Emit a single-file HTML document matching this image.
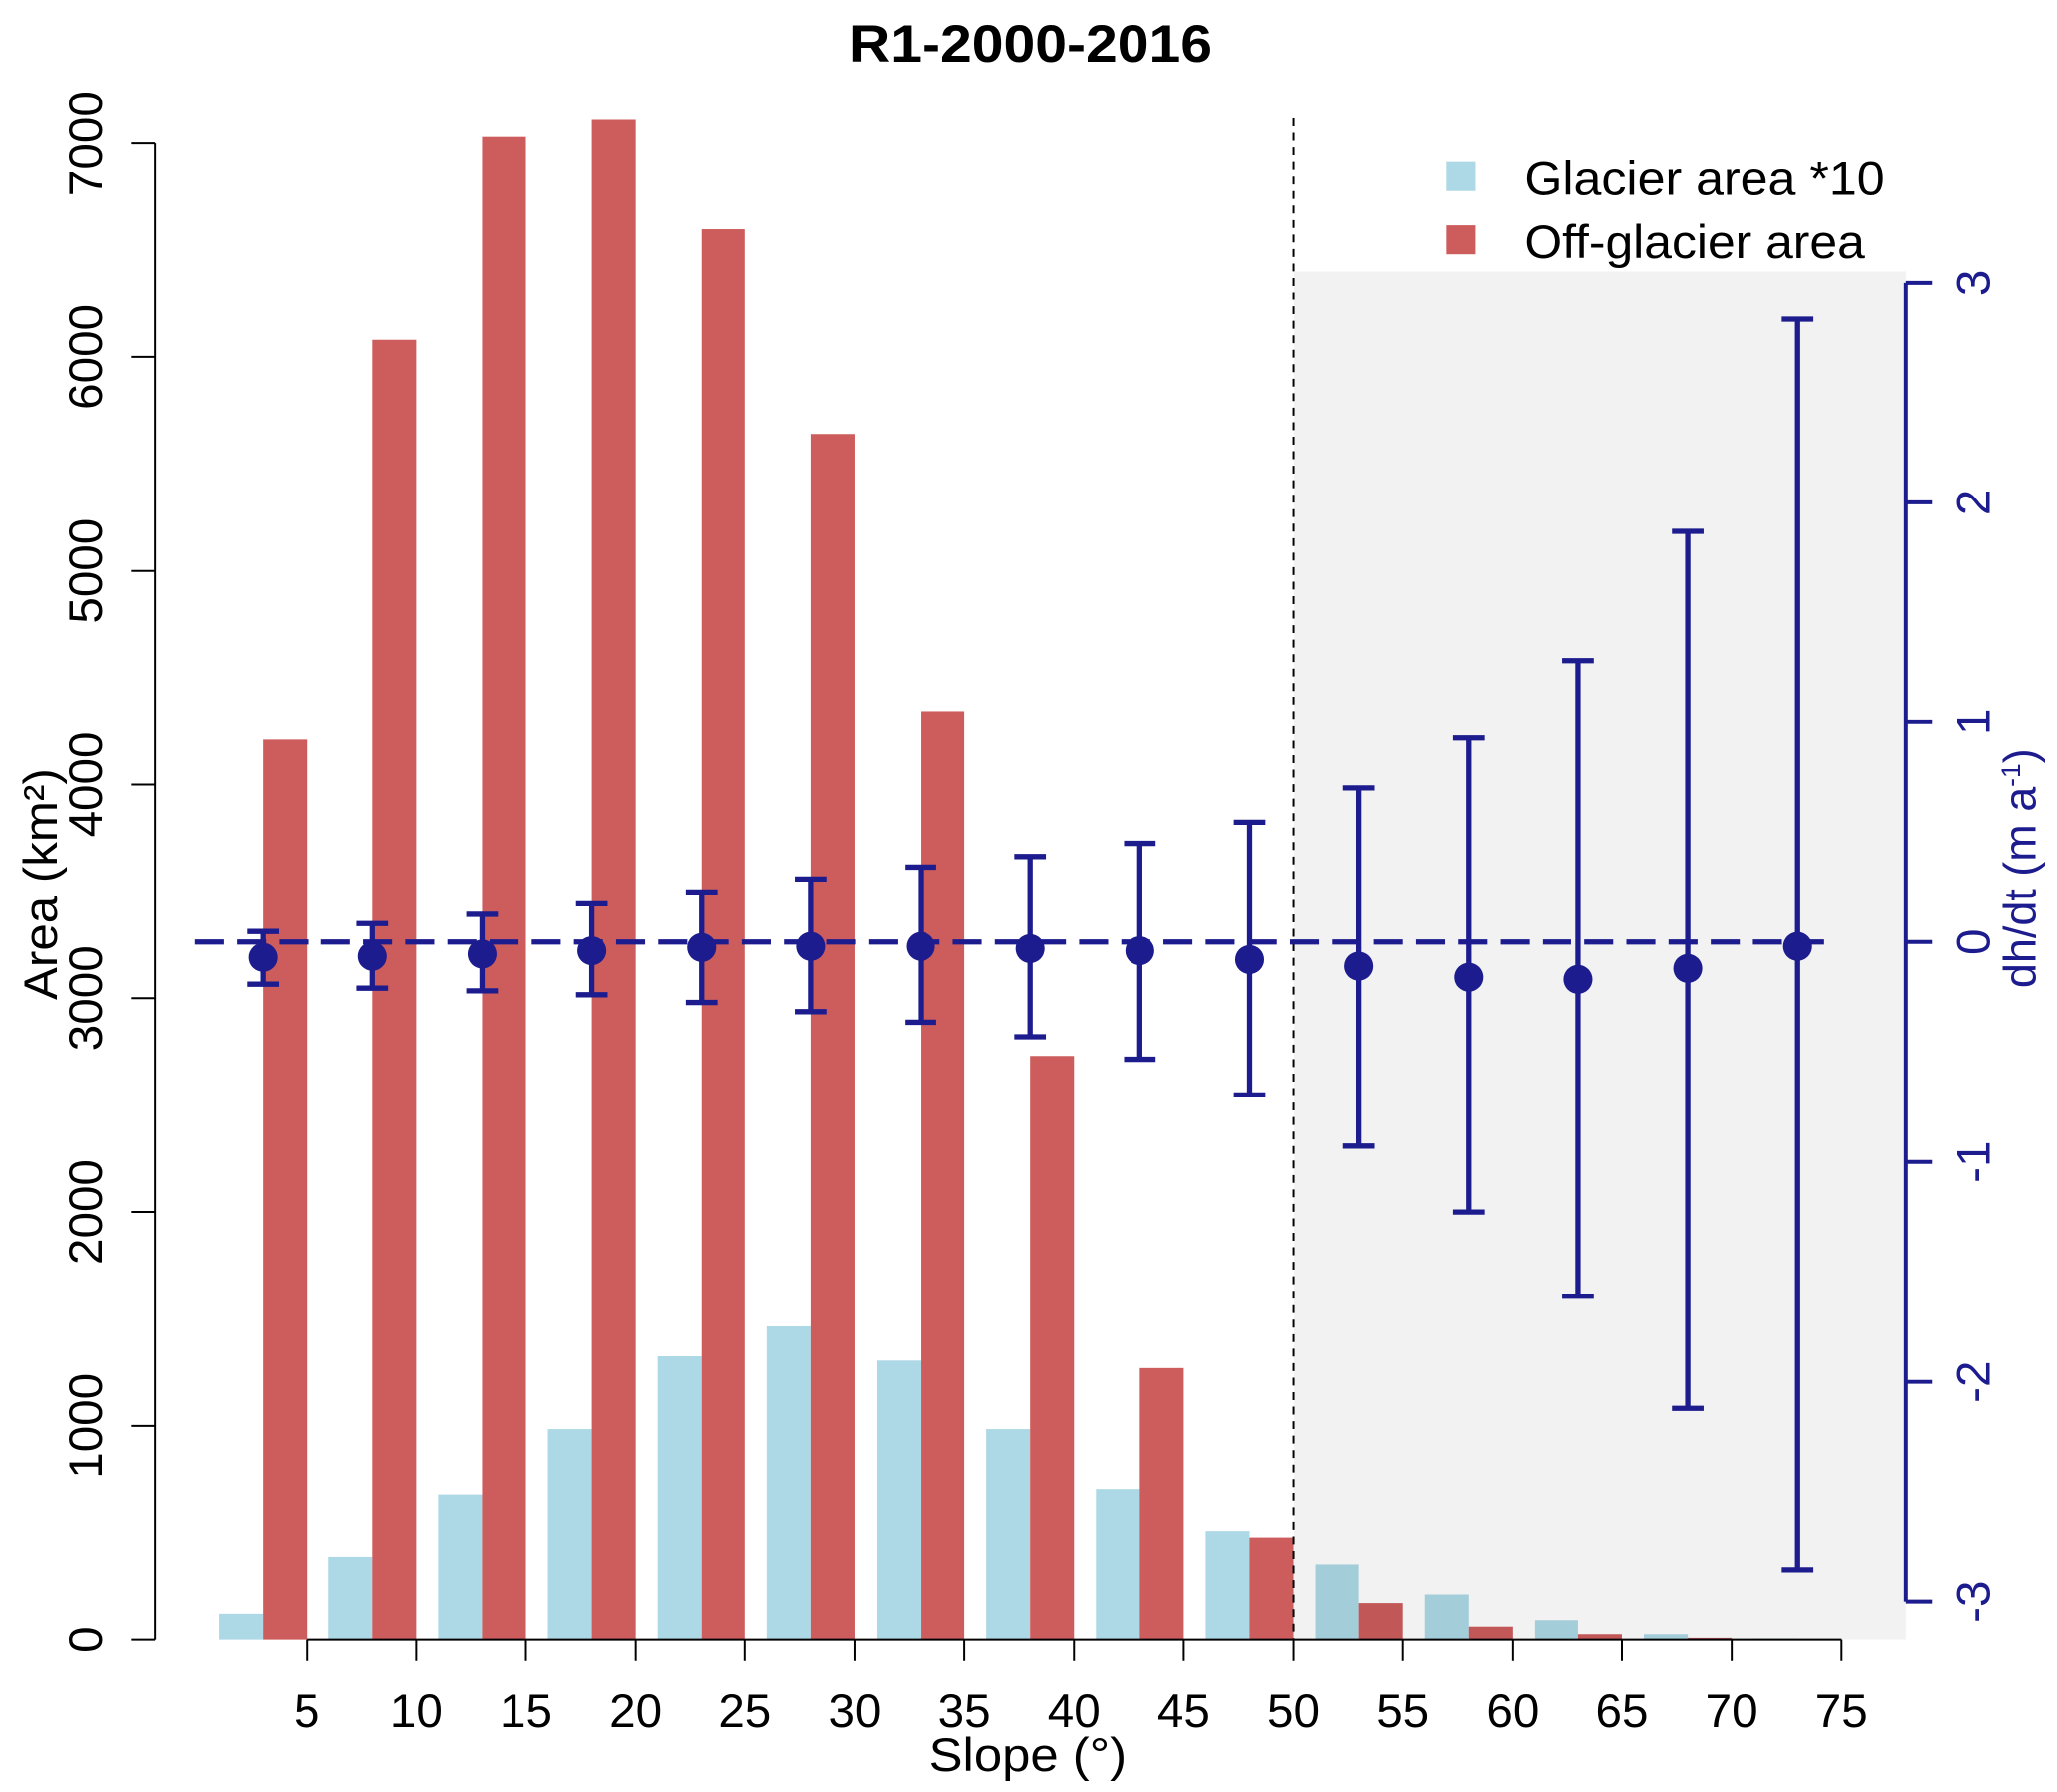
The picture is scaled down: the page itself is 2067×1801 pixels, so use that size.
<!DOCTYPE html>
<html><head><meta charset="utf-8"><style>
html,body{margin:0;padding:0;background:#fff}
svg{display:block;font-family:"Liberation Sans",sans-serif}
</style></head><body>
<svg id="chart" width="2067" height="1801" viewBox="0 0 1563 1362" xmlns="http://www.w3.org/2000/svg">
<rect width="1563" height="1362" fill="#fff"/>
<g id="bars"></g>
<rect x="983" y="206" width="465" height="1040" fill="#000" fill-opacity="0.052"/>
<g id="axes"></g>
<g id="dh"></g>
<text x="783" y="47" font-size="40" font-weight="bold" text-anchor="middle" textLength="276" lengthAdjust="spacingAndGlyphs">R1-2000-2016</text>
<text x="781" y="1346" font-size="36" text-anchor="middle" textLength="150" lengthAdjust="spacingAndGlyphs">Slope (°)</text>
<text transform="translate(43,672) rotate(-90)" font-size="36" text-anchor="middle" textLength="176" lengthAdjust="spacingAndGlyphs">Area (km²)</text>
<text transform="translate(1547,660) rotate(-90)" font-size="34" text-anchor="middle" fill="#1c1c8e">dh/dt (m a<tspan dy="-12" font-size="20">-1</tspan><tspan dy="12">)</tspan></text>
<g>
<rect x="1099" y="123" width="22" height="22" fill="#add8e6"/>
<text x="1158" y="148" font-size="36" textLength="274" lengthAdjust="spacingAndGlyphs">Glacier area *10</text>
<rect x="1099" y="171" width="22" height="22" fill="#cd5c5c"/>
<text x="1158" y="196" font-size="36" textLength="259" lengthAdjust="spacingAndGlyphs">Off-glacier area</text>
</g>
</svg>
<script>
const centers=[3,8,13,18,23,28,33,38,43,48,53,58,63,68,73];
const glacierArea=[120,385,675,985,1325,1465,1305,985,705,505,350,210,90,25,5];
const offGlacierArea=[4210,6080,7030,7110,6600,5640,4340,2730,1270,475,170,60,25,8,3];
const dhMean=[-0.07,-0.065,-0.055,-0.04,-0.025,-0.02,-0.02,-0.03,-0.04,-0.08,-0.11,-0.16,-0.17,-0.12,-0.02];
const dhUpper=[0.048,0.084,0.126,0.174,0.228,0.287,0.341,0.389,0.449,0.545,0.701,0.928,1.281,1.868,2.832];
const dhLower=[-0.192,-0.21,-0.222,-0.24,-0.275,-0.317,-0.365,-0.431,-0.533,-0.695,-0.928,-1.228,-1.611,-2.12,-2.856];
const xTicks=[5,10,15,20,25,30,35,40,45,50,55,60,65,70,75];
const yTicks=[0,1000,2000,3000,4000,5000,6000,7000];
const y2Ticks=[-3,-2,-1,0,1,2,3];
const NS="http://www.w3.org/2000/svg";
const X=v=>233+(v-5)*16.66;
const Y=v=>1246-v*(1137/7000);
const Y2=v=>716-v*167.1;
function mk(parent,tag,attrs){const e=document.createElementNS(NS,tag);for(const k in attrs)e.setAttribute(k,attrs[k]);parent.appendChild(e);return e;}
const bars=document.getElementById('bars'),axes=document.getElementById('axes'),dh=document.getElementById('dh');
centers.forEach((c,i)=>{
  let r=mk(bars,'rect',{x:X(c-2),y:Y(glacierArea[i]),width:X(c)-X(c-2),height:Y(0)-Y(glacierArea[i]),fill:'#add8e6'});
  
  
  let r2=mk(bars,'rect',{x:X(c),y:Y(offGlacierArea[i]),width:X(c+2)-X(c),height:Y(0)-Y(offGlacierArea[i]),fill:'#cd5c5c'});
  
  
});
let l=mk(axes,'line',{x1:118,x2:118,y1:Y(0),y2:Y(7000),stroke:'#000','stroke-width':1.5});


yTicks.forEach(t=>{
  mk(axes,'line',{x1:100,x2:118,y1:Y(t),y2:Y(t),stroke:'#000','stroke-width':1.5});
  const tx=mk(axes,'text',{transform:`translate(77,${Y(t)}) rotate(-90)`,'font-size':36,'text-anchor':'middle'});
  tx.textContent=t;
  
  
});
let xa=mk(axes,'line',{x1:X(5),x2:X(75),y1:1246,y2:1246,stroke:'#000','stroke-width':1.5});


xTicks.forEach(t=>{
  mk(axes,'line',{x1:X(t),x2:X(t),y1:1246,y2:1262,stroke:'#000','stroke-width':1.5});
  const tx=mk(axes,'text',{x:X(t),y:1313,'font-size':36,'text-anchor':'middle'});
  tx.textContent=t;
  
  
});
let vd=mk(axes,'line',{x1:X(50),x2:X(50),y1:90,y2:1246,stroke:'#000','stroke-width':1.5,'stroke-dasharray':'6,5'});


let ra=mk(axes,'line',{x1:1448,x2:1448,y1:Y2(3),y2:Y2(-3),stroke:'#1c1c8e','stroke-width':3});


y2Ticks.forEach(t=>{
  mk(axes,'line',{x1:1448,x2:1468,y1:Y2(t),y2:Y2(t),stroke:'#1c1c8e','stroke-width':3});
  const tx=mk(axes,'text',{transform:`translate(1512,${Y2(t)}) rotate(-90)`,'font-size':36,'text-anchor':'middle',fill:'#1c1c8e'});
  tx.textContent=t;
  
  
});
let zl=mk(dh,'line',{x1:148,x2:1386,y1:Y2(0),y2:Y2(0),stroke:'#1c1c8e','stroke-width':4,'stroke-dasharray':'22,10'});


centers.forEach((c,i)=>{
  const x=X(c);
  const g=mk(dh,'g',{stroke:'#1c1c8e','stroke-width':4,fill:'#1c1c8e'});
  
  
  mk(g,'line',{x1:x,x2:x,y1:Y2(dhUpper[i]),y2:Y2(dhLower[i])});
  mk(g,'line',{x1:x-12,x2:x+12,y1:Y2(dhUpper[i]),y2:Y2(dhUpper[i])});
  mk(g,'line',{x1:x-12,x2:x+12,y1:Y2(dhLower[i]),y2:Y2(dhLower[i])});
  const p=mk(dh,'circle',{cx:x,cy:Y2(dhMean[i]),r:11,fill:'#1c1c8e'});
  
  
});
</script>
</body></html>
